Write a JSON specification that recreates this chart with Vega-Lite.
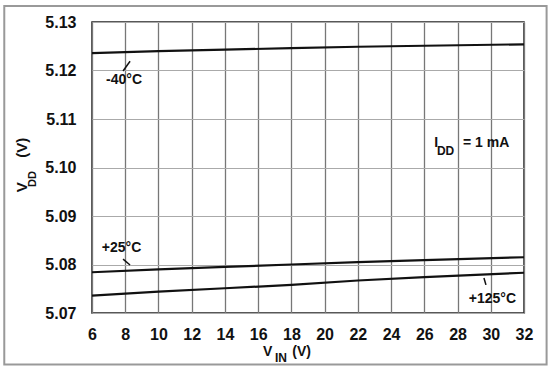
{
  "$schema": "https://vega.github.io/schema/vega-lite/v6.json",
  "width": 432,
  "height": 291,
  "autosize": {"type": "none"},
  "padding": {"left": 92, "top": 22, "right": 27, "bottom": 55},
  "background": "white",
  "config": {
    "view": {"stroke": "#222", "strokeWidth": 1.5},
    "font": "Liberation Sans",
    "axisX": {"labelOverlap": false},
    "axisY": {"labelOverlap": false}
  },
  "datasets": {
    "curves": [
      {"series": "-40°C", "vin": 6, "vdd": 5.1236},
      {"series": "-40°C", "vin": 10, "vdd": 5.1240},
      {"series": "-40°C", "vin": 14, "vdd": 5.1243},
      {"series": "-40°C", "vin": 18, "vdd": 5.1246},
      {"series": "-40°C", "vin": 22, "vdd": 5.1249},
      {"series": "-40°C", "vin": 26, "vdd": 5.1251},
      {"series": "-40°C", "vin": 32, "vdd": 5.1254},
      {"series": "+25°C", "vin": 6, "vdd": 5.0784},
      {"series": "+25°C", "vin": 10, "vdd": 5.0790},
      {"series": "+25°C", "vin": 14, "vdd": 5.0795},
      {"series": "+25°C", "vin": 18, "vdd": 5.0800},
      {"series": "+25°C", "vin": 22, "vdd": 5.0805},
      {"series": "+25°C", "vin": 26, "vdd": 5.0809},
      {"series": "+25°C", "vin": 32, "vdd": 5.0815},
      {"series": "+125°C", "vin": 6, "vdd": 5.0736},
      {"series": "+125°C", "vin": 10, "vdd": 5.0744},
      {"series": "+125°C", "vin": 14, "vdd": 5.0751},
      {"series": "+125°C", "vin": 18, "vdd": 5.0758},
      {"series": "+125°C", "vin": 22, "vdd": 5.0767},
      {"series": "+125°C", "vin": 26, "vdd": 5.0774},
      {"series": "+125°C", "vin": 32, "vdd": 5.0783}
    ],
    "labels": [
      {"label": "-40°C", "x": 7.93, "y": 5.1180},
      {"label": "+25°C", "x": 7.78, "y": 5.0834},
      {"label": "+125°C", "x": 30.10, "y": 5.0729}
    ],
    "arrows": [
      {"x": 7.87, "y": 5.1199, "x2": 8.29, "y2": 5.1219},
      {"x": 7.87, "y": 5.0811, "x2": 8.29, "y2": 5.0799},
      {"x": 29.59, "y": 5.0772, "x2": 29.71, "y2": 5.0758}
    ],
    "mainText": [
      {"t": "I", "x": 26.60, "y": 5.1050},
      {"t": "= 1 mA", "x": 28.33, "y": 5.1050},
      {"t": "V", "x": 16.29, "y": 5.0620},
      {"t": "(V)", "x": 18.05, "y": 5.0620}
    ],
    "subText": [
      {"t": "DD", "x": 26.76, "y": 5.1035},
      {"t": "IN", "x": 17.01, "y": 5.0608}
    ],
    "yTitle": [
      {"t": "V", "x": 1.79, "y": 5.0949},
      {"t": "(V)", "x": 1.79, "y": 5.1020}
    ],
    "yTitleSub": [
      {"t": "DD", "x": 2.42, "y": 5.0960}
    ],
    "frame": [
      {"x": 0.72, "x2": 33.36, "y": 5.0594, "y2": 5.1333}
    ]
  },
  "layer": [
    {
      "data": {"name": "curves"},
      "mark": {"type": "line", "color": "#111", "strokeWidth": 2.2},
      "encoding": {
        "x": {
          "field": "vin", "type": "quantitative",
          "scale": {"domain": [6, 32], "nice": false},
          "axis": {
            "title": null,
            "tickCount": 13,
            "domain": false, "ticks": false, "labelOverlap": false,
            "labelFont": "Liberation Sans", "labelFontWeight": "bold", "labelFontSize": 16,
            "labelColor": "#111", "labelPadding": 13, "labelFlush": false,
            "gridColor": "#777", "gridWidth": 1.3, "gridOpacity": 1
          }
        },
        "y": {
          "field": "vdd", "type": "quantitative",
          "scale": {"domain": [5.07, 5.13], "nice": false, "zero": false},
          "axis": {
            "title": null,
            "tickCount": 6,
            "format": ".2f",
            "domain": false, "ticks": false, "labelOverlap": false,
            "labelFont": "Liberation Sans", "labelFontWeight": "bold", "labelFontSize": 16,
            "labelColor": "#111", "labelPadding": 16, "labelFlush": false,
            "gridColor": "#aaa", "gridWidth": 1, "gridOpacity": 1
          }
        },
        "detail": {"field": "series"}
      }
    },
    {
      "data": {"name": "arrows"},
      "mark": {"type": "rule", "color": "#111", "strokeWidth": 1.5},
      "encoding": {
        "x": {"field": "x", "type": "quantitative"},
        "y": {"field": "y", "type": "quantitative"},
        "x2": {"field": "x2"},
        "y2": {"field": "y2"}
      }
    },
    {
      "data": {"name": "labels"},
      "mark": {"type": "text", "font": "Liberation Sans", "fontWeight": "bold", "fontSize": 14, "color": "#111", "align": "center", "baseline": "middle"},
      "encoding": {
        "x": {"field": "x", "type": "quantitative"},
        "y": {"field": "y", "type": "quantitative"},
        "text": {"field": "label"}
      }
    },
    {
      "data": {"name": "mainText"},
      "mark": {"type": "text", "font": "Liberation Sans", "fontWeight": "bold", "fontSize": 14, "color": "#111", "align": "left", "baseline": "middle"},
      "encoding": {
        "x": {"field": "x", "type": "quantitative"},
        "y": {"field": "y", "type": "quantitative"},
        "text": {"field": "t"}
      }
    },
    {
      "data": {"name": "subText"},
      "mark": {"type": "text", "font": "Liberation Sans", "fontWeight": "bold", "fontSize": 12, "color": "#111", "align": "left", "baseline": "middle"},
      "encoding": {
        "x": {"field": "x", "type": "quantitative"},
        "y": {"field": "y", "type": "quantitative"},
        "text": {"field": "t"}
      }
    },
    {
      "data": {"name": "yTitle"},
      "mark": {"type": "text", "font": "Liberation Sans", "fontWeight": "bold", "fontSize": 15, "color": "#111", "align": "left", "baseline": "middle", "angle": 270},
      "encoding": {
        "x": {"field": "x", "type": "quantitative"},
        "y": {"field": "y", "type": "quantitative"},
        "text": {"field": "t"}
      }
    },
    {
      "data": {"name": "yTitleSub"},
      "mark": {"type": "text", "font": "Liberation Sans", "fontWeight": "bold", "fontSize": 11, "color": "#111", "align": "left", "baseline": "middle", "angle": 270},
      "encoding": {
        "x": {"field": "x", "type": "quantitative"},
        "y": {"field": "y", "type": "quantitative"},
        "text": {"field": "t"}
      }
    },
    {
      "data": {"name": "frame"},
      "mark": {"type": "rect", "filled": false, "stroke": "#999", "strokeWidth": 2, "clip": false},
      "encoding": {
        "x": {"field": "x", "type": "quantitative"},
        "x2": {"field": "x2"},
        "y": {"field": "y", "type": "quantitative"},
        "y2": {"field": "y2"}
      }
    }
  ]
}
